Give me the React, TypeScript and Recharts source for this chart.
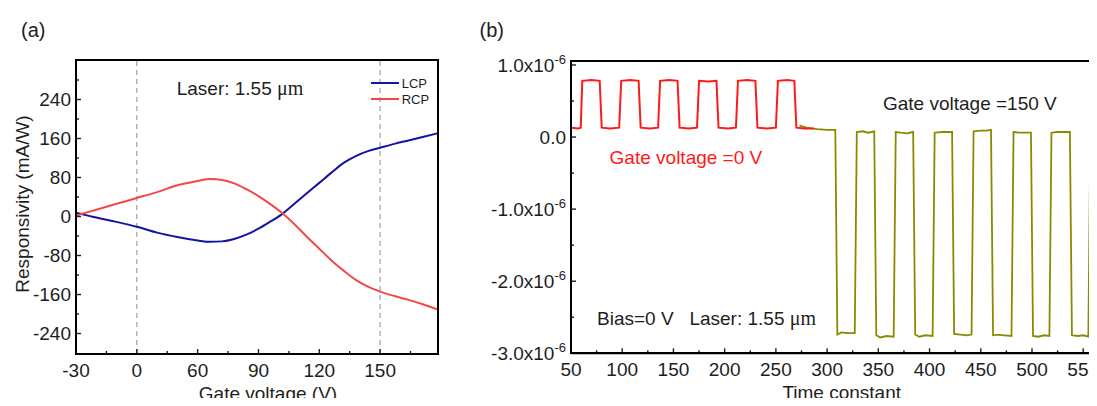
import React from 'react';
import { LineChart, Line, XAxis, YAxis, ReferenceLine, Legend } from 'recharts';

const FONT = '"Liberation Sans", Arial, Helvetica, sans-serif';
const SERIF = '"Liberation Serif", "Times New Roman", serif';
const INK = '#1e1e1e';

// ---- panel (a): responsivity vs gate voltage (x in axis positions, labels below)
const GATE_POS = [-30, -20, -10, 0, 10, 20, 30, 36, 42, 48, 54, 60, 66, 72, 78, 84, 90, 96, 102, 108, 114, 120, 127, 134, 141, 148.7];
const LCP = [8, -2, -11, -21, -33, -42, -49, -52, -51, -46, -37, -25, -10, 6, 27, 48, 69, 90, 110, 124, 134, 141, 149, 156, 163, 171];
const RCP = [2, 14, 26, 38, 50, 64, 73, 77, 75, 68, 56, 42, 25, 6, -17, -42, -66, -90, -111, -130, -144, -154, -163, -171, -180, -191];
const A_X_DOMAIN = [-30, 148.7];
const A_Y_DOMAIN = [-282, 321];
const A_X_MAJOR = [-30, 0, 30, 60, 90, 120];
const A_X_LABELS = ['-30', '0', '60', '90', '120', '150'];
const A_X_MINOR = [-15, 15, 45, 75, 105, 135];
const A_Y_MAJOR = [-240, -160, -80, 0, 80, 160, 240];
const A_Y_MINOR = [-200, -120, -40, 40, 120, 200, 280];
const A_DASHED = [0, 120];

// ---- panel (b): photocurrent vs time (values in units of 1e-6)
const RED_T = [50, 57, 59.5, 61, 70, 78, 80, 88, 97, 99, 108, 116, 118, 127, 135, 137, 146, 154, 156, 165, 173, 175, 184, 192, 194, 203, 211, 213, 222, 230, 232, 241, 250, 252, 261, 268, 270, 278, 287];
const RED_V = [0.13, 0.12, 0.13, 0.78, 0.79, 0.78, 0.13, 0.12, 0.13, 0.78, 0.79, 0.78, 0.13, 0.12, 0.13, 0.78, 0.79, 0.78, 0.13, 0.12, 0.13, 0.78, 0.77, 0.78, 0.13, 0.12, 0.13, 0.78, 0.79, 0.78, 0.13, 0.12, 0.13, 0.78, 0.79, 0.78, 0.13, 0.12, 0.12];
const OLIVE_T = [273, 280, 290, 300, 308, 310, 314, 320, 327, 329, 335, 340, 346, 348, 352, 358, 365, 367, 372, 378, 384, 386, 390, 396, 403, 405, 412, 418, 422, 424, 430, 436, 441, 443, 450, 456, 460, 462, 467, 473, 480, 482, 488, 495, 499, 501, 506, 512, 517, 519, 525, 531, 537, 539, 545, 550, 555, 557, 563, 570, 576, 578, 590, 596, 598, 610, 615];
const OLIVE_V = [0.16, 0.13, 0.11, 0.1, 0.1, -2.74, -2.71, -2.72, -2.72, 0.07, 0.08, 0.06, 0.08, -2.75, -2.78, -2.76, -2.77, 0.07, 0.06, 0.05, 0.07, -2.74, -2.77, -2.75, -2.76, 0.06, 0.07, 0.07, 0.07, -2.73, -2.74, -2.75, -2.74, 0.08, 0.09, 0.09, 0.1, -2.75, -2.74, -2.75, -2.76, 0.07, 0.06, 0.06, 0.06, -2.76, -2.77, -2.75, -2.76, 0.06, 0.07, 0.07, 0.07, -2.75, -2.76, -2.75, -2.77, 0.07, 0.07, 0.06, 0.07, -2.75, -2.76, -2.76, 0.07, 0.07, 0.07];
const B_X_DOMAIN = [50, 615.2];
const B_Y_DOMAIN = [-3, 1.055];
const B_X_MAJOR = [50, 100, 150, 200, 250, 300, 350, 400, 450, 500, 550];
const B_X_MINOR = [75, 125, 175, 225, 275, 325, 375, 425, 475, 525, 575];
const B_Y_MAJOR = [-3, -2, -1, 0, 1];
const B_Y_MINOR = [-2.5, -1.5, -0.5, 0.5];

const dataA = GATE_POS.map((u, i) => ({ u, lcp: LCP[i], rcp: RCP[i] }));
const redData = RED_T.map((t, i) => ({ t, v: RED_V[i] }));
const oliveData = OLIVE_T.map((t, i) => ({ t, v: OLIVE_V[i] }));

const sortNum = (a: number[]) => [...a].sort((p, q) => p - q);
const frameLine = { stroke: '#000', strokeWidth: 2 };

function leftTick(major: number[], fmt: (v: number) => React.ReactNode) {
  return (p: any) => {
    const v = p.payload.value;
    const isMajor = major.includes(v);
    return (
      <g>
        <line x1={p.x} x2={p.x + (isMajor ? 5 : 3)} y1={p.y} y2={p.y} stroke={INK} strokeWidth={1.4} />
        {isMajor && (
          <text x={p.x - 5} y={p.y} dy="0.36em" textAnchor="end" fontSize={19} fontFamily={FONT} fill={INK}>
            {fmt(v)}
          </text>
        )}
      </g>
    );
  };
}

function bottomTick(major: number[], fmt: (v: number) => string) {
  return (p: any) => {
    const v = p.payload.value;
    const isMajor = major.includes(v);
    return (
      <g>
        <line x1={p.x} x2={p.x} y1={p.y} y2={p.y - (isMajor ? 5 : 3)} stroke={INK} strokeWidth={1.4} />
        {isMajor && (
          <text x={p.x} y={p.y + 16} dy="0.36em" textAnchor="middle" fontSize={19} fontFamily={FONT} fill={INK}>
            {fmt(v)}
          </text>
        )}
      </g>
    );
  };
}

const sciLabel = (v: number) =>
  v === 0 ? (
    '0.0'
  ) : (
    <>
      <tspan>{`${v.toFixed(1)}x10`}</tspan>
      <tspan dy={-8} fontSize={13}>-6</tspan>
    </>
  );

const renderLegend = (props: any) => (
  <div style={{ fontFamily: FONT, fontSize: 13, color: INK, lineHeight: 1 }}>
    {(props.payload || []).map((e: any) => (
      <div key={e.value} style={{ display: 'flex', alignItems: 'center', height: 15.7 }}>
        <span style={{ display: 'inline-block', width: 28, height: 2, background: e.color, marginRight: 3 }} />
        {e.value}
      </div>
    ))}
  </div>
);

const txt = (left: number, cy: number, content: React.ReactNode, extra: React.CSSProperties = {}) => (
  <div
    style={{
      position: 'absolute',
      left,
      top: cy,
      transform: 'translateY(-50%)',
      lineHeight: 1,
      whiteSpace: 'nowrap',
      fontFamily: FONT,
      fontSize: 19,
      color: INK,
      ...extra,
    }}
  >
    {content}
  </div>
);

// plain box around a plot area (decoration, not data)
const box = (left: number, top: number, width: number, height: number) => (
  <div
    style={{
      position: 'absolute',
      left: left - 1,
      top: top - 1,
      width: width + 2,
      height: height + 2,
      boxSizing: 'border-box',
      border: '2px solid #000',
      pointerEvents: 'none',
    }}
  />
);

const mu = <span style={{ fontFamily: SERIF, fontSize: 20 }}>μm</span>;

export default function App() {
  return (
    <div style={{ position: 'relative', width: 1097, height: 406, margin: -8, overflow: 'hidden', background: '#fff' }}>
      {/* panel (a) */}
      <div style={{ position: 'absolute', left: 0, top: 0 }}>
        <LineChart width={460} height={406} data={dataA} margin={{ top: 60, right: 21.7, bottom: 22, left: 26 }}>
          <XAxis
            dataKey="u"
            type="number"
            domain={A_X_DOMAIN}
            allowDataOverflow
            ticks={sortNum([...A_X_MAJOR, ...A_X_MINOR])}
            interval={0}
            height={30}
            axisLine={frameLine}
            tickLine={false}
            tickSize={0}
            tickMargin={0}
            tick={bottomTick(A_X_MAJOR, (v) => A_X_LABELS[A_X_MAJOR.indexOf(v)])}
          />
          <YAxis
            type="number"
            domain={A_Y_DOMAIN}
            allowDataOverflow
            ticks={sortNum([...A_Y_MAJOR, ...A_Y_MINOR])}
            interval={0}
            width={50}
            axisLine={frameLine}
            tickLine={false}
            tickSize={0}
            tickMargin={0}
            tick={leftTick(A_Y_MAJOR, (v) => String(v))}
          />
          {A_DASHED.map((x) => (
            <ReferenceLine key={x} x={x} stroke="#a0a0a0" strokeWidth={1.2} strokeDasharray="5 4" />
          ))}
          <Line type="monotone" dataKey="lcp" name="LCP" stroke="#1414a0" strokeWidth={2} dot={false} isAnimationActive={false} />
          <Line type="monotone" dataKey="rcp" name="RCP" stroke="#f44848" strokeWidth={2} dot={false} isAnimationActive={false} />
          <Legend
            layout="vertical"
            align="center"
            verticalAlign="middle"
            content={renderLegend}
            wrapperStyle={{ left: 370.7, top: 75.5, width: 70, height: 32 }}
          />
        </LineChart>
      </div>

      {/* panel (b) */}
      <div style={{ position: 'absolute', left: 460, top: 0 }}>
        <LineChart width={700} height={406} margin={{ top: 61, right: 10, bottom: 22.7, left: 51 }}>
          <XAxis
            dataKey="t"
            type="number"
            domain={B_X_DOMAIN}
            allowDataOverflow
            ticks={sortNum([...B_X_MAJOR, ...B_X_MINOR])}
            interval={0}
            height={30}
            axisLine={frameLine}
            tickLine={false}
            tickSize={0}
            tickMargin={0}
            tick={bottomTick(B_X_MAJOR, (v) => String(v))}
          />
          <YAxis
            type="number"
            domain={B_Y_DOMAIN}
            allowDataOverflow
            ticks={sortNum([...B_Y_MAJOR, ...B_Y_MINOR])}
            interval={0}
            width={60}
            axisLine={frameLine}
            tickLine={false}
            tickSize={0}
            tickMargin={0}
            tick={leftTick(B_Y_MAJOR, sciLabel)}
          />
          <Line data={oliveData} type="linear" dataKey="v" name="150 V" stroke="#8a8a00" strokeWidth={1.8} dot={false} isAnimationActive={false} />
          <Line data={redData} type="linear" dataKey="v" name="0 V" stroke="#ff1a1a" strokeWidth={2} dot={false} isAnimationActive={false} />
        </LineChart>
      </div>

      {/* plot boxes */}
      {box(76, 60, 362.3, 294)}
      {box(571, 61, 579, 292.3)}

      {/* annotations */}
      {txt(21, 30, '(a)', { fontSize: 20 })}
      {txt(479.5, 30, '(b)', { fontSize: 20 })}
      {txt(176.7, 88, <>Laser: 1.55 {mu}</>)}
      {txt(268, 393, 'Gate voltage (V)', { transform: 'translate(-50%, -50%)' })}
      {txt(21.7, 203.5, 'Responsivity (mA/W)', { transform: 'translate(-50%, -50%) rotate(-90deg)' })}
      {txt(841.7, 392, 'Time constant', { transform: 'translate(-50%, -50%)' })}
      {txt(883, 103.3, 'Gate voltage =150 V')}
      {txt(609.6, 156.7, 'Gate voltage =0 V', { color: '#ff1a1a' })}
      {txt(597, 318.3, 'Bias=0 V')}
      {txt(689.4, 318.3, <>Laser: 1.55 {mu}</>)}
    </div>
  );
}
